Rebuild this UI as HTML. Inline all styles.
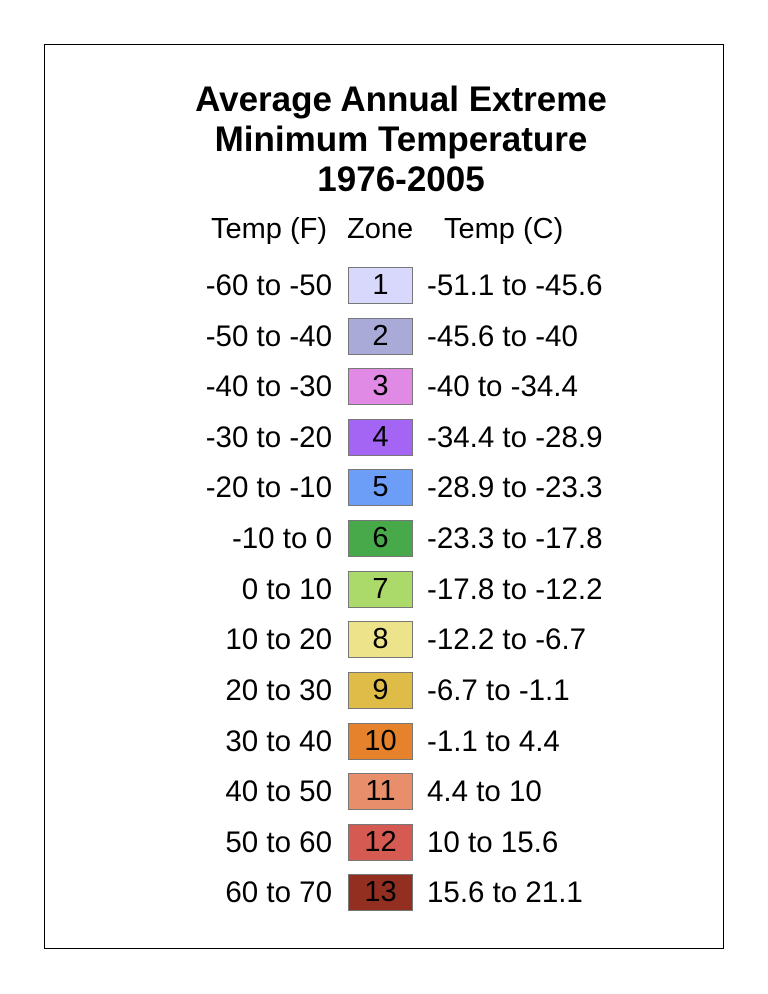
<!DOCTYPE html>
<html><head><meta charset="utf-8"><style>
body{margin:0;background:#fff;width:768px;height:994px;position:relative;font-family:"Liberation Sans",Arial,sans-serif;overflow:hidden}
.frame{position:absolute;left:44px;top:44px;width:678px;height:903px;border:1px solid #000}
.t{position:absolute;left:0;width:802px;text-align:center;font-weight:bold;font-size:35px;line-height:40px;color:#000}
.h{position:absolute;top:212px;font-size:29px;line-height:34px}
.l{position:absolute;right:436px;font-size:29.5px;line-height:36px;text-align:right;white-space:nowrap}
.r{position:absolute;left:427px;font-size:29.5px;line-height:36px;white-space:nowrap}
.b{position:absolute;left:348px;width:63px;height:35px;border:1px solid #777;font-size:29px;line-height:35px;text-align:center}
</style></head><body>
<div class="frame"></div>
<div class="t" style="top:80px">Average Annual Extreme<br>Minimum Temperature<br>1976-2005</div>
<div class="h" style="left:211px">Temp (F)</div>
<div class="h" style="left:347px">Zone</div>
<div class="h" style="left:444px">Temp (C)</div>

<div class="l" style="top:268px">-60 to -50</div><div class="b" style="top:267px;background:#d8d8fc">1</div><div class="r" style="top:268px">-51.1 to -45.6</div>
<div class="l" style="top:319px">-50 to -40</div><div class="b" style="top:318px;background:#a9aad8">2</div><div class="r" style="top:319px">-45.6 to -40</div>
<div class="l" style="top:369px">-40 to -30</div><div class="b" style="top:368px;background:#e08ae6">3</div><div class="r" style="top:369px">-40 to -34.4</div>
<div class="l" style="top:420px">-30 to -20</div><div class="b" style="top:419px;background:#a465f5">4</div><div class="r" style="top:420px">-34.4 to -28.9</div>
<div class="l" style="top:470px">-20 to -10</div><div class="b" style="top:469px;background:#6d9ef7">5</div><div class="r" style="top:470px">-28.9 to -23.3</div>
<div class="l" style="top:521px">-10 to 0</div><div class="b" style="top:520px;background:#47a94a">6</div><div class="r" style="top:521px">-23.3 to -17.8</div>
<div class="l" style="top:572px">0 to 10</div><div class="b" style="top:571px;background:#abd96a">7</div><div class="r" style="top:572px">-17.8 to -12.2</div>
<div class="l" style="top:622px">10 to 20</div><div class="b" style="top:621px;background:#ede38b">8</div><div class="r" style="top:622px">-12.2 to -6.7</div>
<div class="l" style="top:673px">20 to 30</div><div class="b" style="top:672px;background:#dfbb48">9</div><div class="r" style="top:673px">-6.7 to -1.1</div>
<div class="l" style="top:724px">30 to 40</div><div class="b" style="top:723px;background:#e5822b">10</div><div class="r" style="top:724px">-1.1 to 4.4</div>
<div class="l" style="top:774px">40 to 50</div><div class="b" style="top:773px;background:#e88e6b">11</div><div class="r" style="top:774px">4.4 to 10</div>
<div class="l" style="top:825px">50 to 60</div><div class="b" style="top:824px;background:#d55a51">12</div><div class="r" style="top:825px">10 to 15.6</div>
<div class="l" style="top:875px">60 to 70</div><div class="b" style="top:874px;background:#922f21">13</div><div class="r" style="top:875px">15.6 to 21.1</div>
</body></html>
